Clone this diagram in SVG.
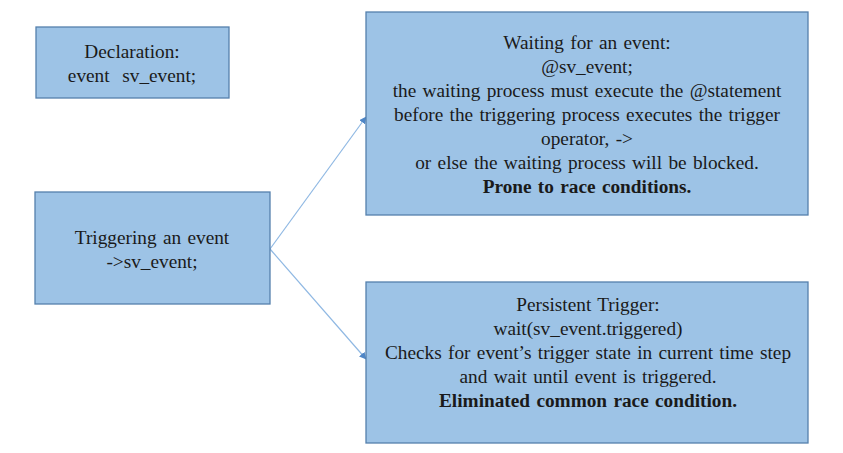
<svg xmlns="http://www.w3.org/2000/svg" width="843" height="453" viewBox="0 0 843 453">
  <style>
    .box { fill: #9dc3e6; stroke: #5580ad; stroke-width: 1.3; }
    .t { font-family: "Liberation Serif", "Times New Roman", serif; font-size: 19.3px; word-spacing: 1.5px; fill: #1a1a1a; text-anchor: middle; }
    .b { font-weight: bold; }
    .conn { stroke: #8fb8e3; stroke-width: 1.2; fill: none; }
  </style>
  <defs>
    <marker id="arr" viewBox="0 0 10 10" refX="9" refY="5" markerWidth="6" markerHeight="6" orient="auto">
      <path d="M0,0 L10,5 L0,10 z" fill="#4f86c6"/>
    </marker>
  </defs>
  <rect width="843" height="453" fill="#ffffff"/>
  <g id="connectors">
    <line class="conn" x1="270" y1="249" x2="366" y2="117" marker-end="url(#arr)"/>
    <line class="conn" x1="270" y1="249" x2="366" y2="359" marker-end="url(#arr)"/>
  </g>
  <g id="declaration">
    <rect class="box" x="36" y="27" width="193" height="71"/>
    <text class="t" x="132" y="58">Declaration:</text>
    <text class="t" x="132" y="82" xml:space="preserve">event  sv_event;</text>
  </g>
  <g id="triggering">
    <rect class="box" x="35" y="192" width="235" height="112"/>
    <text class="t" x="152" y="244">Triggering an event</text>
    <text class="t" x="152" y="268">-&gt;sv_event;</text>
  </g>
  <g id="waiting">
    <rect class="box" x="366" y="12" width="442" height="203"/>
    <text class="t" x="587" y="49">Waiting for an event:</text>
    <text class="t" x="587" y="73">@sv_event;</text>
    <text class="t" x="587" y="97">the waiting process must execute the @statement</text>
    <text class="t" x="587" y="121">before the triggering process executes the trigger</text>
    <text class="t" x="587" y="145">operator, -&gt;</text>
    <text class="t" x="587" y="169">or else the waiting process will be blocked.</text>
    <text class="t b" x="587" y="193">Prone to race conditions.</text>
  </g>
  <g id="persistent">
    <rect class="box" x="366" y="282" width="442" height="161"/>
    <text class="t" x="588" y="311">Persistent Trigger:</text>
    <text class="t" x="588" y="335">wait(sv_event.triggered)</text>
    <text class="t" x="588" y="359">Checks for event’s trigger state in current time step</text>
    <text class="t" x="588" y="383">and wait until event is triggered.</text>
    <text class="t b" x="588" y="407">Eliminated common race condition.</text>
  </g>
</svg>
